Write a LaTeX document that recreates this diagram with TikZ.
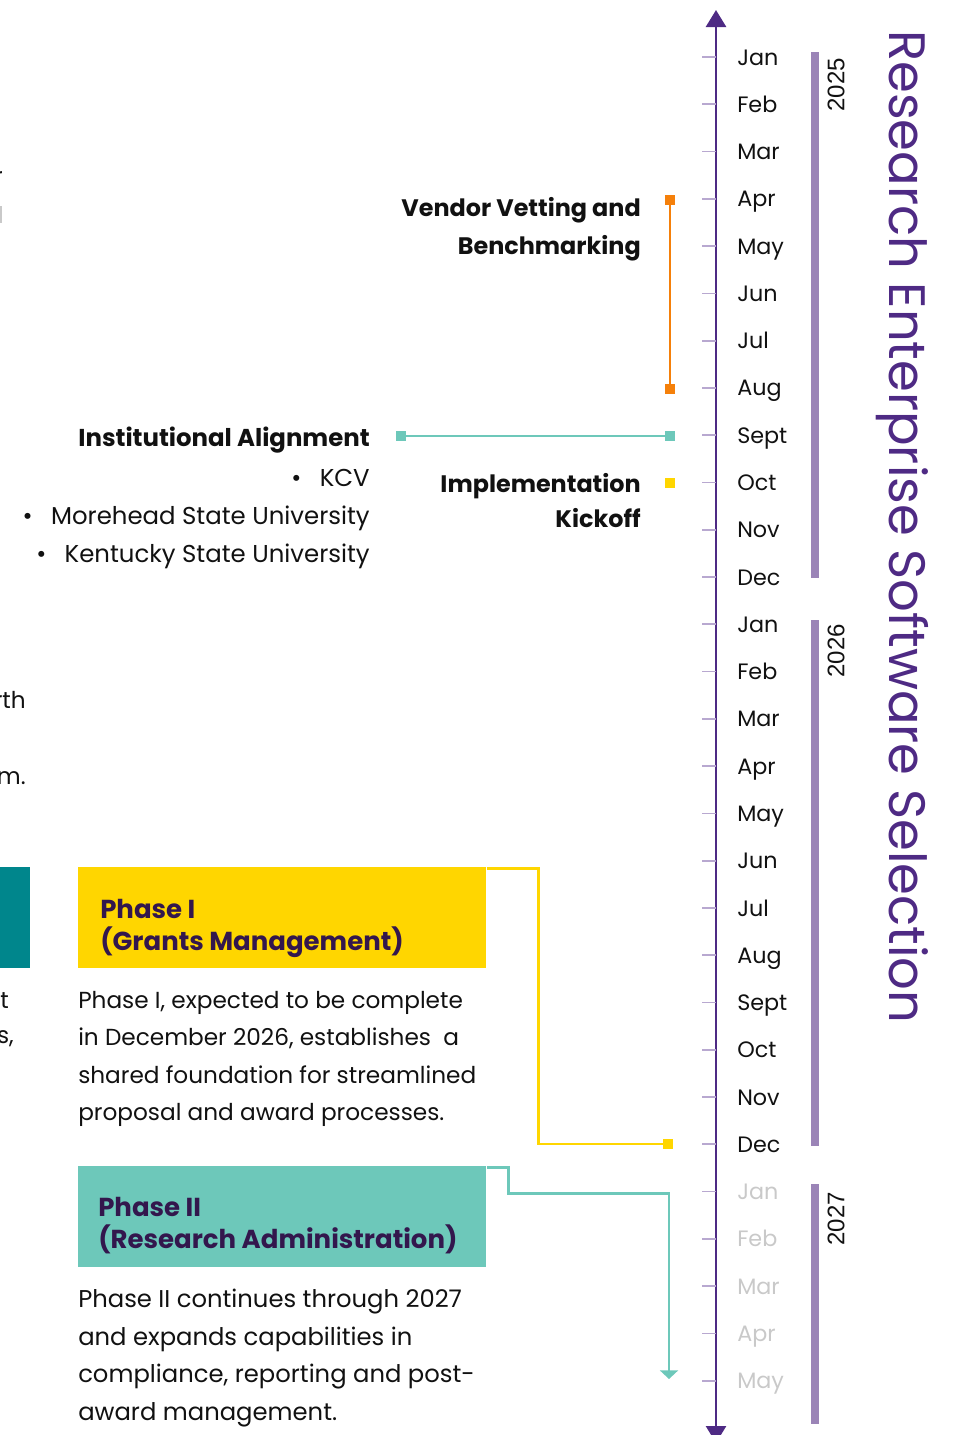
\documentclass[tikz,border=0pt]{standalone}
\usepackage{fontspec}
\setmainfont{Poppins}
\newfontfamily\yearfont{Liberation Sans}
\usepackage{xcolor}
\usepackage{tikz}
\usetikzlibrary{positioning, arrows.meta}

\definecolor{axispurple}{HTML}{4E2A84}
\definecolor{tickpurple}{HTML}{B8A8D0}
\definecolor{barpurple}{HTML}{9B84B7}
\definecolor{ink}{HTML}{111111}
\definecolor{fadegray}{HTML}{C9C9C9}
\definecolor{vetorange}{HTML}{F5800A}
\definecolor{aligntealc}{HTML}{6DC8BA}
\definecolor{kickyellow}{HTML}{FFD600}
\definecolor{deepteal}{HTML}{00868C}
\definecolor{phaseink}{HTML}{33174D}

\begin{document}
\begin{tikzpicture}[
    x=0.75pt, y=-0.75pt,
    % ---- time axis ----
    axis/.style={line width=2pt, axispurple,
        {Triangle[width=15pt,length=12.75pt]}-{Triangle[width=15pt,length=12.75pt]}},
    tick/.style={line width=1.3pt, tickpurple},
    month/.style={anchor=base west, inner sep=0pt,
        font=\fontsize{16.7}{19}\selectfont, text=ink},
    oldmonth/.style={month, text=fadegray},
    yearbar/.style={fill=barpurple},
    yearlbl/.style={rotate=90, anchor=east, inner sep=0pt,
        font=\yearfont\fontsize{18}{20}\selectfont, text=ink},
    % ---- milestones ----
    marker/.style={fill=#1, minimum size=7.5pt, inner sep=0pt},
    lbl/.style={anchor=north east, inner sep=0pt, align=right, text=ink,
        font=\fontsize{17.9}{28.5}\selectfont\bfseries},
    body/.style={anchor=north west, inner sep=0pt, align=left, text=ink,
        font=\fontsize{17.4}{28.1}\selectfont},
    % ---- phase boxes ----
    phasebox/.style={anchor=north west, fill=#1, minimum width=306pt,
        minimum height=75.75pt, inner sep=0pt},
    phasehead/.style={anchor=north west, inner sep=0pt, align=left,
        text=phaseink, font=\fontsize{19.5}{24}\selectfont\bfseries},
    link/.style={line width=2pt, #1}
]

% ---- month tick macro ----
\newcommand{\monthat}[4]{%
    \draw[tick] (702,#2) -- (716,#2);
    \node[#4] (#1) at (737,#2+8) {#3};}

\useasboundingbox (0,0) rectangle (961,1435);
\clip (0,0) rectangle (961,1435);

% ---------- axis ----------
\coordinate (axisTop) at (716,10);
\coordinate (axisBot) at (716,1443);
\draw[axis] (axisBot) -- (axisTop);

% ---------- 2025 ----------
\monthat{jan25}{57}{Jan}{month}
\monthat{feb25}{104.3}{Feb}{month}
\monthat{mar25}{151.6}{Mar}{month}
\monthat{apr25}{198.8}{Apr}{month}
\monthat{may25}{246.1}{May}{month}
\monthat{jun25}{293.4}{Jun}{month}
\monthat{jul25}{340.7}{Jul}{month}
\monthat{aug25}{387.9}{Aug}{month}
\monthat{sep25}{435.2}{Sept}{month}
\monthat{oct25}{482.5}{Oct}{month}
\monthat{nov25}{529.8}{Nov}{month}
\monthat{dec25}{577}{Dec}{month}

% ---------- 2026 ----------
\monthat{jan26}{624.3}{Jan}{month}
\monthat{feb26}{671.6}{Feb}{month}
\monthat{mar26}{718.9}{Mar}{month}
\monthat{apr26}{766.1}{Apr}{month}
\monthat{may26}{813.4}{May}{month}
\monthat{jun26}{860.7}{Jun}{month}
\monthat{jul26}{908}{Jul}{month}
\monthat{aug26}{955.2}{Aug}{month}
\monthat{sep26}{1002.5}{Sept}{month}
\monthat{oct26}{1049.8}{Oct}{month}
\monthat{nov26}{1097.1}{Nov}{month}
\monthat{dec26}{1144.3}{Dec}{month}

% ---------- 2027 ----------
\monthat{jan27}{1191.6}{Jan}{oldmonth}
\monthat{feb27}{1238.9}{Feb}{oldmonth}
\monthat{mar27}{1286.2}{Mar}{oldmonth}
\monthat{apr27}{1333.4}{Apr}{oldmonth}
\monthat{may27}{1380.7}{May}{oldmonth}

% ---------- year bars ----------
\fill[yearbar] (811,52) rectangle (819,578);
\fill[yearbar] (811,620) rectangle (819,1146);
\fill[yearbar] (811,1184) rectangle (819,1424);
\node[yearlbl] (y2025) at (836,58) {2025};
\node[yearlbl] (y2026) at (836,624) {2026};
\node[yearlbl] (y2027) at (836,1192) {2027};

% ---------- title ----------
\node[rotate=-90, anchor=base west, inner sep=0pt, text=axispurple,
    font=\fontsize{38.4}{42}\selectfont] (title) at (889,30)
    {Research Enterprise Software Selection};

% ---------- milestones ----------
\node[marker=vetorange] (vetStart) at (670,199.5) {};
\node[marker=vetorange] (vetEnd) at (670,389) {};
\draw[link=vetorange] (vetStart) -- (vetEnd);
\node[lbl] (vendor) at (641,197) {Vendor Vetting and\\Benchmarking};

\node[marker=aligntealc] (alignL) at (401,436) {};
\node[marker=aligntealc] (alignR) at (670,436) {};
\draw[link=aligntealc] (alignL) -- (alignR);
\node[body, anchor=north east, align=right,
    font=\fontsize{18.3}{28.5}\selectfont] (inst) at (370,427)
    {\textbf{Institutional Alignment}\\[1.5pt]
     •\hspace{0.75em}KCV\\
     •\hspace{0.75em}Morehead State University\\
     •\hspace{0.75em}Kentucky State University};

\node[marker=kickyellow] (kickMark) at (670,483) {};
\node[lbl, font=\fontsize{17.9}{26.25}\selectfont\bfseries] (kickoff)
    at (641,473) {Implementation\\Kickoff};

% ---------- phases ----------
\node[phasebox=kickyellow] (phaseOne) at (78,867) {};
\node[phasehead] (phaseOneHead) at ([shift={(22,32)}]phaseOne.north west)
    {Phase I\\(Grants Management)};
\node[body] (phaseOneTxt) at (78,991)
    {Phase I, expected to be complete\\
     in December 2026, establishes\ \ a\\
     shared foundation for streamlined\\
     proposal and award processes.};
\node[marker=kickyellow] (grantsEnd) at (668,1144) {};
\draw[link=kickyellow] ([yshift=-1pt]phaseOne.north east) -- ++(52,0) |- (grantsEnd);

\node[phasebox=aligntealc] (phaseTwo) at (78,1166) {};
\node[phasehead] (phaseTwoHead) at ([shift={(20,31)}]phaseTwo.north west)
    {Phase II\\(Research Administration)};
\node[body, font=\fontsize{18.2}{28.1}\selectfont] (phaseTwoTxt) at (78,1289)
    {Phase II continues through 2027\\
     and expands capabilities in\\
     compliance, reporting and post-\\
     award management.};
\coordinate (adminEnd) at (669,1379);
\draw[link=aligntealc, -{Triangle[width=13.5pt,length=6.5pt]}]
    ([yshift=-1pt]phaseTwo.north east) -- ++(22,0) -- ++(0,26) -| (adminEnd);

% ---------- cut-off left column ----------
\node[fill=deepteal, minimum width=45pt, minimum height=75.75pt,
    anchor=north east, inner sep=0pt] (prevBox) at (30,867) {};
\node[body, anchor=base east] (fragA) at (3,184) {r};
\fill[fadegray] (0,206) rectangle (1.5,223);
\node[body, anchor=base east] (fragB) at (26,708) {rth};
\node[body, anchor=base east] (fragC) at (26,784) {m.};
\node[body, anchor=base east] (fragD) at (9,1008) {t};
\node[body, anchor=base east] (fragE) at (14,1043) {s,};

\end{tikzpicture}
\end{document}
